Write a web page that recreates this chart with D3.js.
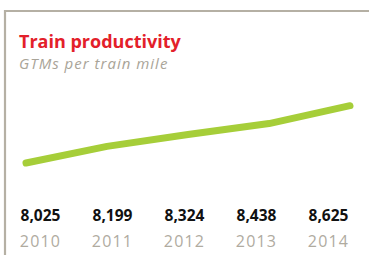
<!DOCTYPE html>
<html><head><meta charset="utf-8">
<script src="https://cdn.jsdelivr.net/npm/d3@7"></script>
<style>body{margin:0;background:#fff}svg{display:block}</style>
</head><body>
<script>
const years = ["2010","2011","2012","2013","2014"];
const values = [8025, 8199, 8324, 8438, 8625];
const valueLabels = ["8,025","8,199","8,324","8,438","8,625"];
const title = "Train productivity";
const subtitle = "GTMs per train mile";

const W = 369, H = 255;
const svg = d3.select("body").append("svg").attr("width", W).attr("height", H);

// frame
svg.append("path").attr("d", `M5,${H} V11 H${W}`).attr("fill","none")
  .attr("stroke","#b5b0a4").attr("stroke-width",2.2);

svg.append("text").attr("x",19).attr("y",47.5).text(title)
  .attr("font-family","Open Sans").attr("font-weight",700).attr("font-size",18)
  .attr("fill","#e3202a");
svg.append("text").attr("x",19).attr("y",68.5).text(subtitle)
  .attr("font-family","Open Sans").attr("font-style","italic").attr("font-size",15)
  .attr("letter-spacing",1)
  .attr("fill","#a9a498");

const x = d3.scalePoint().domain(years).range([26,350]);
const y = d3.scaleLinear().domain([8025,8625]).range([163,105.7]);

svg.append("path").datum(values)
  .attr("d", d3.line().x((d,i)=>x(years[i])).y(d=>y(d)))
  .attr("fill","none").attr("stroke","#a6ce39").attr("stroke-width",7)
  .attr("stroke-linecap","round").attr("stroke-linejoin","round");

const xl = d3.scalePoint().domain(years).range([40.5,328.5]);
svg.selectAll("text.v").data(valueLabels).join("text").attr("class","v")
  .attr("x",(d,i)=>xl(years[i])).attr("y",221).attr("text-anchor","middle")
  .attr("font-family","Open Sans").attr("font-weight",700).attr("font-size",15.5)
  .attr("fill","#111").text(d=>d);
svg.selectAll("text.y").data(years).join("text").attr("class","y")
  .attr("x",d=>xl(d)).attr("y",247).attr("text-anchor","middle")
  .attr("font-family","Open Sans").attr("font-weight",400).attr("font-size",16)
  .attr("letter-spacing",1.2)
  .attr("fill","#b0ab9f").text(d=>d);
</script>
</body></html>
